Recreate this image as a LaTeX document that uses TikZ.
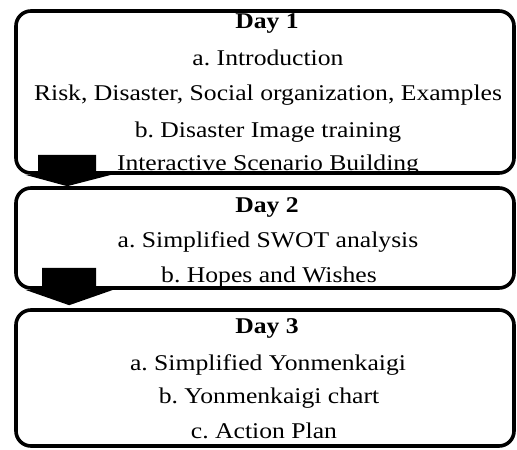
\documentclass[tikz,border=0pt]{standalone}
\usepackage{fontspec}
\setmainfont{Liberation Serif}
\usetikzlibrary{calc}
\newcommand{\hstr}[1]{\scalebox{1.14}[1]{#1}}
\begin{document}
\frenchspacing
\begin{tikzpicture}[x=1pt,y=-1pt,
  daybox/.style={draw=black,line width=3.6pt,rounded corners=15pt,fill=white,inner sep=0pt},
  txt/.style={anchor=base,inner sep=0pt,font=\fontsize{22.5}{27}\selectfont},
  ttl/.style={txt,font=\fontsize{22.5}{27}\selectfont\bfseries},
  blockarrow/.style={fill=black,draw=none}]
\useasboundingbox (0,0) rectangle (517,450);
\fill[white] (0,0) rectangle (517,450);
% boxes
\node[daybox,minimum width=498pt,minimum height=162pt] (d1) at (265,92) {};
\node[daybox,minimum width=498pt,minimum height=100pt] (d2) at (265,238) {};
\node[daybox,minimum width=498pt,minimum height=136pt] (d3) at (265,378) {};
% texts day 1
\node[ttl] (t11) at (267,28) {\hstr{Day 1}};
\node[txt] (t12) at (268,65) {\hstr{a. Introduction}};
\node[txt] (t13) at (268,100) {\hstr{Risk, Disaster, Social organization,\ Examples}};
\node[txt] (t14) at (268,137) {\hstr{b. Disaster Image training}};
\node[txt] (t15) at (268,170) {\hstr{Interactive\ Scenario Building}};
% texts day 2
\node[ttl] (t21) at (267,212) {\hstr{Day 2}};
\node[txt] (t22) at (268,247) {\hstr{a. Simplified\ SWOT analysis}};
\node[txt] (t23) at (269,282) {\hstr{b. Hopes and Wishes}};
% texts day 3
\node[ttl] (t31) at (267,333) {\hstr{Day 3}};
\node[txt] (t32) at (268,370) {\hstr{a. Simplified\ Yonmenkaigi}};
\node[txt] (t33) at (269,403) {\hstr{b. Yonmenkaigi\ chart}};
\node[txt] (t34) at (264,438) {\hstr{c. Action Plan}};
% block arrows
\fill[blockarrow] ($(d1.south west)+(24,-20)$) -- ($(d1.south west)+(82,-20)$)
  -- ($(d1.south west)+(82,0)$) -- ($(d1.south west)+(97,0)$)
  -- ($(d2.north west)+(53,0)$)
  -- ($(d1.south west)+(11,0)$) -- ($(d1.south west)+(24,0)$) -- cycle;
\fill[blockarrow] ($(d2.south west)+(28,-22)$) -- ($(d2.south west)+(82,-22)$)
  -- ($(d2.south west)+(82,0)$) -- ($(d2.south west)+(99,0)$)
  -- ($(d3.north west)+(55,-3)$)
  -- ($(d2.south west)+(11,0)$) -- ($(d2.south west)+(28,0)$) -- cycle;
\end{tikzpicture}
\end{document}
